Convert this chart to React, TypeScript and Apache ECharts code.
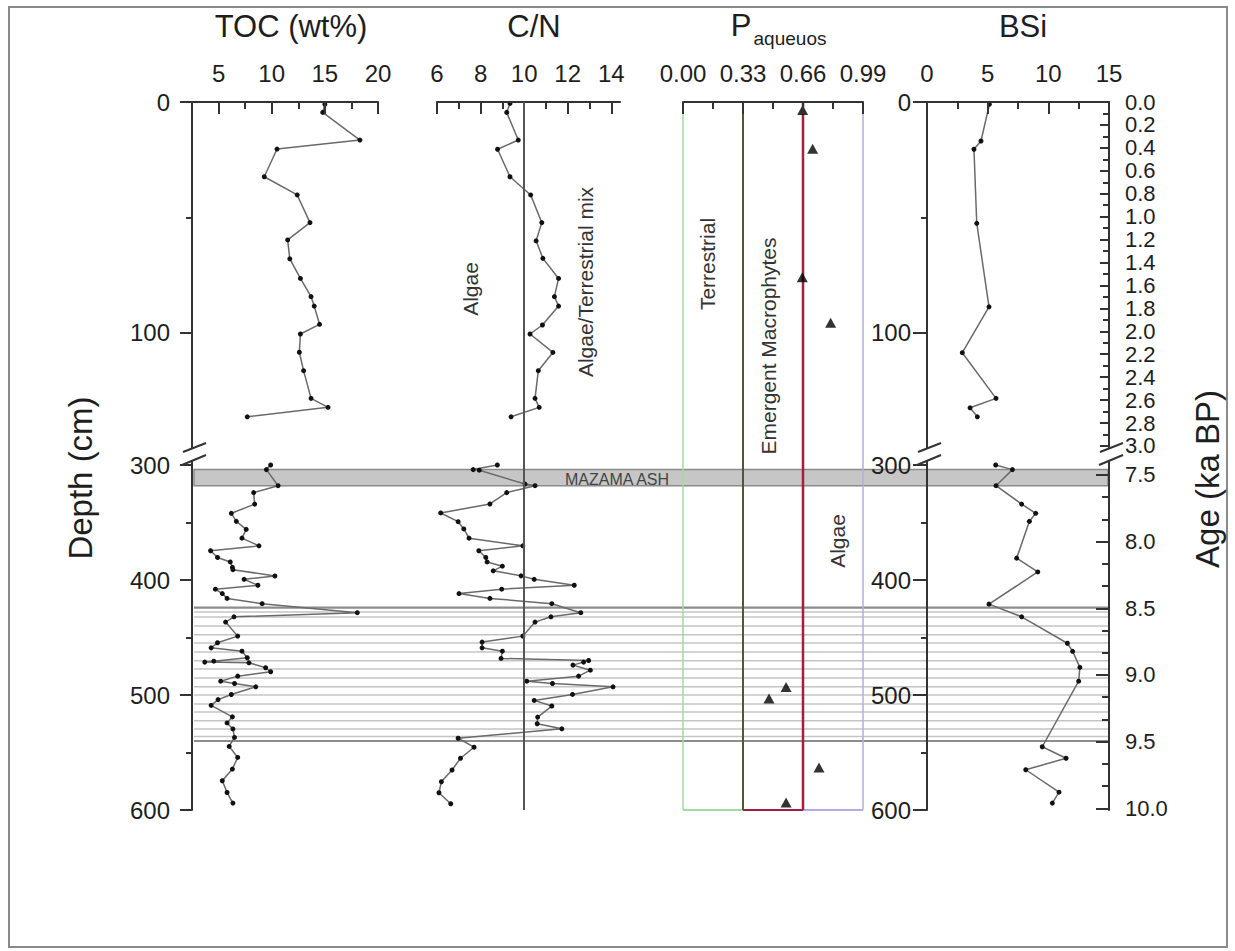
import React, { useEffect, useRef } from 'react';
import * as echarts from 'echarts';

const FONT = '"Liberation Sans", Arial, Helvetica, sans-serif';
const TEXT = '#1e1e1e';
const AXIS = '#333333';

// ---------- depth / age scales ----------
const depthRangeTop = [0, 157.4];
const depthRangeBottom = [300, 600];
const depthLabelsTop = [0, 100];
const depthMinorTop = [50];
const depthLabelsBottom = [300, 400, 500, 600];
const depthMinorBottom = [350, 450, 550];

const ageRangeTop = [0, 3.166];
const ageLabelsTop = [0, 0.2, 0.4, 0.6, 0.8, 1.0, 1.2, 1.4, 1.6, 1.8, 2.0, 2.2, 2.4, 2.6, 2.8, 3.0];
const ageMinorTop = [0.1, 0.3, 0.5, 0.7, 0.9, 1.1, 1.3, 1.5, 1.7, 1.9, 2.1, 2.3, 2.5, 2.7, 2.9];
const ageRangeBottom = [7.425, 10.013];
const ageLabelsBottom = [7.5, 8.0, 8.5, 9.0, 9.5, 10.0];
const ageMinorBottom = [7.6667, 7.8333, 8.1667, 8.3333, 8.6667, 8.8333, 9.1667, 9.3333, 9.6667, 9.8333];

// ---------- panel x scales ----------
const tocTicks = [5, 10, 15, 20];
const tocMinor = [7.5, 12.5, 17.5];
const cnTicks = [6, 8, 10, 12, 14];
const cnMinor = [7, 9, 11, 13];
const pTicks = [0, 0.33, 0.66, 0.99];
const pMinor = [0.165, 0.495, 0.825];
const bsiTicks = [0, 5, 10, 15];
const bsiMinor = [2.5, 7.5, 12.5];

// ---------- TOC (wt%) ----------
const tocDepthTop = [1, 4.5, 16.5, 20.4, 32.4, 40.3, 52.3, 59.8, 68, 76.5, 84.4, 88.5, 96.4, 100.6, 108.5, 116.5, 128.5, 132.4, 136.5];
const tocValTop = [15.0, 14.8, 18.3, 10.5, 9.3, 12.4, 13.6, 11.5, 11.7, 12.7, 13.7, 14.0, 14.5, 12.7, 12.6, 13.0, 13.7, 15.3, 7.7];
const tocDepthBottom = [300, 304, 318, 324, 334, 342, 349, 356, 363.6, 370.3, 374.6, 380.4, 384.3, 389, 391, 396.5, 399.4, 404.6, 408, 411.8, 416, 420.6, 428.4, 432, 436.6, 448.8, 454.6, 459, 461.9, 467.6, 470.6, 471.4, 472, 476.3, 479.8, 483.6, 488, 490, 492.9, 499.6, 504, 509, 519, 524.3, 529.5, 536.9, 544.7, 554.3, 564.4, 574.6, 584.8, 594];
const tocValBottom = [9.9, 9.5, 10.6, 8.3, 8.4, 6.2, 6.67, 7.6, 7.2, 8.8, 4.25, 4.9, 6.1, 6.3, 6.35, 10.3, 7.4, 8.7, 4.7, 5.35, 5.8, 9.1, 18.05, 6.45, 5.66, 6.8, 4.9, 4.3, 7.2, 7.7, 4.55, 3.7, 7.86, 9.43, 9.9, 6.8, 5.2, 6.5, 8.5, 6.2, 4.95, 4.3, 6.3, 5.8, 6.35, 6.5, 6.0, 6.8, 6.3, 5.35, 5.8, 6.35];

// ---------- C/N ----------
const cnThreshold = 10;
const cnDepthTop = [0.6, 4.5, 16.5, 20.5, 32.4, 40.3, 52.3, 60.2, 67.8, 76.5, 84.4, 88.5, 96.7, 100.6, 108.6, 116.5, 128.5, 132.4, 136.5];
const cnValTop = [9.35, 9.2, 9.73, 8.78, 9.35, 10.3, 10.81, 10.55, 10.86, 11.58, 11.39, 11.58, 10.84, 10.27, 11.32, 10.65, 10.5, 10.69, 9.4];
const cnDepthBottom = [300, 304, 304.5, 316.6, 318, 324, 333.9, 341.7, 349.3, 355.6, 363.6, 370.3, 374.6, 380.4, 384.3, 388, 392, 396.4, 399.4, 404.6, 408, 411.8, 416, 420.6, 428.4, 432, 436.6, 448.8, 454, 459, 461.9, 468.2, 470, 471.4, 474, 478.4, 483.6, 488, 490, 492.9, 499.5, 504.7, 509.6, 519.2, 525, 529.4, 537.6, 545.4, 555, 565.2, 575.4, 585, 594.6];
const cnValBottom = [8.77, 7.66, 7.94, 10.04, 10.5, 9.2, 8.43, 6.17, 6.97, 7.23, 7.47, 9.94, 7.92, 8.24, 8.3, 9.0, 8.58, 9.86, 10.46, 12.3, 8.97, 7.01, 8.43, 11.27, 12.6, 11.23, 10.5, 9.94, 8.07, 8.07, 9.0, 8.94, 12.96, 12.73, 12.24, 13.04, 12.5, 10.12, 11.3, 14.08, 12.22, 10.46, 11.27, 10.62, 10.6, 11.73, 6.97, 7.7, 7.08, 6.69, 6.2, 6.09, 6.63];

// ---------- P aqueuos ----------
const pDepthTop = [3.5, 20.3, 76, 95.7];
const pValTop = [0.658, 0.713, 0.656, 0.812];
const pDepthBottom = [493, 503, 563, 593.5];
const pValBottom = [0.567, 0.473, 0.748, 0.567];
const zoneEdges = [0, 0.33, 0.66, 0.99];
const zones = [[0, 0.33], [0.33, 0.66], [0.66, 0.99]];
const zoneEdgeColors = ['#9fdc9f', '#56562c', '#a21f3e', '#aeaee4'];
const zoneEdgeWidths = [1.5, 2, 2.5, 1.5];
const zoneColors = ['#9fdc9f', '#a21f3e', '#aeaee4'];

// ---------- BSi ----------
const bsiDepthTop = [1, 16.9, 20.5, 52.6, 88.8, 108.7, 128.5, 132.6, 136.5];
const bsiValTop = [5.14, 4.45, 3.87, 4.1, 5.11, 2.91, 5.69, 3.55, 4.15];
const bsiDepthBottom = [300, 304, 318, 334, 342, 349, 381, 393, 421, 432, 455, 462, 476, 488, 545, 555, 565, 584.5, 594];
const bsiValBottom = [5.66, 7.04, 5.69, 7.8, 8.96, 8.44, 7.39, 9.13, 5.11, 7.8, 11.57, 12.0, 12.6, 12.5, 9.5, 11.46, 8.14, 10.88, 10.33];

// ---------- stratigraphic markers ----------
const mazamaAsh = [[304, 318]];
const laminationBounds = [424, 540];
const laminationLines = [427.8, 432.2, 440, 447.6, 454.8, 462.6, 470.2, 477.4, 485.2, 492.8, 500, 507.8, 514.8, 522.3, 529.6, 536];

// ---------- layout ----------
const TOP_Y = 102;
const SPLIT_Y = 465;
const BOTTOM_Y = 810;

const panels = [
  { left: 192, width: 186, min: 2.5, max: 20, major: tocTicks, minor: tocMinor, fmt: (v: number) => String(v) },
  { left: 437, width: 183, min: 6, max: 14.4, major: cnTicks, minor: cnMinor, fmt: (v: number) => String(v) },
  { left: 683, width: 180, min: 0, max: 0.99, major: pTicks, minor: pMinor, fmt: (v: number) => v.toFixed(2) },
  { left: 927, width: 182, min: 0, max: 15, major: bsiTicks, minor: bsiMinor, fmt: (v: number) => String(v) },
];

const tick = (length: number, inside: boolean, values: number[]) => ({
  show: true, inside, length, customValues: values, lineStyle: { color: AXIS, width: 2 },
});
const labelStyle = { fontSize: 24, color: TEXT, fontFamily: FONT, showMinLabel: true, showMaxLabel: true, hideOverlap: false };

function buildOption() {
  const grid: any[] = [];
  const xAxis: any[] = [];
  const yAxis: any[] = [];
  const series: any[] = [];
  const ids: any = {};

  panels.forEach((p, i) => {
    grid.push({ left: p.left, width: p.width, top: TOP_Y, height: SPLIT_Y - TOP_Y, containLabel: false, outerBoundsMode: 'none' });
    grid.push({ left: p.left, width: p.width, top: SPLIT_Y, height: BOTTOM_Y - SPLIT_Y, containLabel: false, outerBoundsMode: 'none' });
    const gt = 2 * i, gb = 2 * i + 1;
    ids['xt' + i] = xAxis.length;
    xAxis.push({
      type: 'value', gridIndex: gt, position: 'top', min: p.min, max: p.max, z: 4,
      axisLine: { show: true, onZero: false, lineStyle: { color: AXIS, width: 2 } },
      axisTick: tick(12, true, p.major),
      axisLabel: { show: true, customValues: p.major, formatter: p.fmt, margin: 17, ...labelStyle },
      splitLine: { show: false },
    });
    xAxis.push({
      type: 'value', gridIndex: gt, position: 'top', min: p.min, max: p.max, z: 4,
      axisLine: { show: false, onZero: false }, axisTick: tick(7, true, p.minor),
      axisLabel: { show: false }, splitLine: { show: false },
    });
    ids['xb' + i] = xAxis.length;
    xAxis.push({ type: 'value', gridIndex: gb, position: 'bottom', min: p.min, max: p.max, show: false, axisLine: { onZero: false }, splitLine: { show: false } });

    const showDepth = i === 0 || i === 3;
    const margin = i === 0 ? 22 : 16;
    const tlen = i === 0 ? 12 : 14;
    [[gt, depthRangeTop, depthLabelsTop, depthMinorTop, 't'], [gb, depthRangeBottom, depthLabelsBottom, depthMinorBottom, 'b']].forEach(
      ([g, range, labels, minor, k]: any) => {
        ids['y' + k + i] = yAxis.length;
        if (showDepth) {
          yAxis.push({
            type: 'value', gridIndex: g, position: 'left', inverse: true, min: range[0], max: range[1], z: 4,
            axisLine: { show: true, onZero: false, lineStyle: { color: AXIS, width: 2 } },
            axisTick: tick(tlen, false, labels),
            axisLabel: { show: true, customValues: labels, margin, ...labelStyle },
            splitLine: { show: false },
          });
          yAxis.push({
            type: 'value', gridIndex: g, position: 'left', inverse: true, min: range[0], max: range[1], z: 4,
            axisLine: { show: false, onZero: false }, axisTick: tick(6, false, minor),
            axisLabel: { show: false }, splitLine: { show: false },
          });
        } else {
          yAxis.push({ type: 'value', gridIndex: g, inverse: true, min: range[0], max: range[1], show: false, axisLine: { onZero: false }, splitLine: { show: false } });
        }
      }
    );
  });

  // age axes on the right of BSi
  [[6, ageRangeTop, ageLabelsTop, ageMinorTop, 9, 6], [7, ageRangeBottom, ageLabelsBottom, ageMinorBottom, 13, 7]].forEach(
    ([g, range, labels, minor, majLen, minLen]: any) => {
      yAxis.push({
        type: 'value', gridIndex: g, position: 'right', inverse: true, min: range[0], max: range[1], z: 4,
        axisLine: { show: true, onZero: false, lineStyle: { color: AXIS, width: 2 } },
        axisTick: tick(majLen, true, labels),
        axisLabel: { show: true, customValues: labels, formatter: (v: number) => v.toFixed(1), margin: 16, ...labelStyle, fontSize: 22, lineHeight: 22 },
        splitLine: { show: false },
      });
      yAxis.push({
        type: 'value', gridIndex: g, position: 'right', inverse: true, min: range[0], max: range[1], z: 4,
        axisLine: { show: false, onZero: false }, axisTick: tick(minLen, true, minor),
        axisLabel: { show: false }, splitLine: { show: false },
      });
    }
  );

  // overlay grid for ash band and laminations
  grid.push({ left: 194, width: 914, top: SPLIT_Y, height: BOTTOM_Y - SPLIT_Y, containLabel: false, outerBoundsMode: 'none' });
  const bandX = xAxis.length;
  xAxis.push({ type: 'value', gridIndex: 8, min: 0, max: 1, show: false, axisLine: { onZero: false } });
  const bandY = yAxis.length;
  yAxis.push({ type: 'value', gridIndex: 8, inverse: true, min: depthRangeBottom[0], max: depthRangeBottom[1], show: false, axisLine: { onZero: false } });

  const lineSeries = (xi: number, yi: number, depths: number[], vals: number[], extra: any = {}) => ({
    type: 'line', xAxisIndex: xi, yAxisIndex: yi, silent: true, z: 3,
    data: depths.map((d, k) => [vals[k], d]),
    symbol: 'circle', symbolSize: 5, showSymbol: true,
    itemStyle: { color: '#111' }, lineStyle: { color: '#6a6a6a', width: 1.5 },
    ...extra,
  });
  const cnMark = {
    markLine: {
      silent: true, symbol: ['none', 'none'], label: { show: false },
      lineStyle: { color: '#555', width: 2, type: 'solid' },
      data: [{ xAxis: cnThreshold }],
    },
  };

  // stratigraphy
  series.push({
    type: 'custom', xAxisIndex: bandX, yAxisIndex: bandY, z: 1, silent: true, clip: false,
    data: laminationLines.map((d) => [0, d]),
    renderItem: (params: any, api: any) => {
      const cs = params.coordSys;
      const y = api.coord([0, api.value(1)])[1];
      return { type: 'line', shape: { x1: cs.x, y1: y, x2: cs.x + cs.width, y2: y }, style: { stroke: '#c4c4c4', lineWidth: 1.5 } };
    },
  });
  series.push({
    type: 'custom', xAxisIndex: bandX, yAxisIndex: bandY, z: 1, silent: true, clip: false,
    data: laminationBounds.map((d) => [0, d]),
    renderItem: (params: any, api: any) => {
      const cs = params.coordSys;
      const y = api.coord([0, api.value(1)])[1];
      return { type: 'line', shape: { x1: cs.x, y1: y, x2: cs.x + cs.width, y2: y }, style: { stroke: '#8c8c8c', lineWidth: 2.2 } };
    },
  });
  series.push({
    type: 'custom', xAxisIndex: bandX, yAxisIndex: bandY, z: 1, silent: true, clip: false,
    data: mazamaAsh,
    renderItem: (params: any, api: any) => {
      const cs = params.coordSys;
      const y0 = api.coord([0, api.value(0)])[1];
      const y1 = api.coord([0, api.value(1)])[1];
      return { type: 'rect', shape: { x: cs.x, y: y0, width: cs.width, height: y1 - y0 }, style: { fill: '#c6c6c6', stroke: '#8a8a8a', lineWidth: 1.5 } };
    },
  });

  // P zones
  const edgeSeries = (xi: number, yi: number) => ({
    type: 'custom', xAxisIndex: xi, yAxisIndex: yi, z: 2, silent: true, clip: false,
    data: zoneEdges.map((v) => [v, 0]),
    renderItem: (params: any, api: any) => {
      const cs = params.coordSys;
      const x = api.coord([api.value(0), api.value(1)])[0];
      return {
        type: 'line', shape: { x1: x, y1: cs.y, x2: x, y2: cs.y + cs.height },
        style: { stroke: zoneEdgeColors[params.dataIndex], lineWidth: zoneEdgeWidths[params.dataIndex] },
      };
    },
  });
  series.push(edgeSeries(ids.xt2, ids.yt2));
  series.push({
    type: 'custom', xAxisIndex: ids.xb2, yAxisIndex: ids.yb2, z: 2, silent: true, clip: false,
    data: zones,
    renderItem: (params: any, api: any) => {
      const p0 = api.coord([api.value(0), depthRangeBottom[1]]);
      const p1 = api.coord([api.value(1), depthRangeBottom[1]]);
      return { type: 'line', shape: { x1: p0[0], y1: p0[1], x2: p1[0], y2: p1[1] }, style: { stroke: zoneColors[params.dataIndex], lineWidth: 2 } };
    },
  });
  series.push(edgeSeries(ids.xb2, ids.yb2));

  // data series
  series.push(lineSeries(ids.xt0, ids.yt0, tocDepthTop, tocValTop));
  series.push(lineSeries(ids.xb0, ids.yb0, tocDepthBottom, tocValBottom));
  series.push(lineSeries(ids.xt1, ids.yt1, cnDepthTop, cnValTop, cnMark));
  series.push(lineSeries(ids.xb1, ids.yb1, cnDepthBottom, cnValBottom, cnMark));
  series.push(lineSeries(ids.xt3, ids.yt3, bsiDepthTop, bsiValTop));
  series.push(lineSeries(ids.xb3, ids.yb3, bsiDepthBottom, bsiValBottom));
  const tri = (xi: number, yi: number, depths: number[], vals: number[]) => ({
    type: 'scatter', xAxisIndex: xi, yAxisIndex: yi, z: 3, silent: true,
    symbol: 'triangle', symbolSize: [11, 10], itemStyle: { color: '#000' },
    data: depths.map((d, k) => [vals[k], d]),
  });
  series.push(tri(ids.xt2, ids.yt2, pDepthTop, pValTop));
  series.push(tri(ids.xb2, ids.yb2, pDepthBottom, pValBottom));

  // graphics: titles, annotations, axis breaks, frame
  const txt = (text: string, x: number, y: number, size: number, rot = 0, color = TEXT, align = 'center') => ({
    type: 'text', x, y, z: 100, rotation: rot, silent: true,
    style: {
      text, fontSize: size, fontFamily: FONT, fill: color,
      align, verticalAlign: 'middle', textAlign: align, textVerticalAlign: 'middle',
    },
  });
  const R = Math.PI / 2;
  const elements: any[] = [
    { type: 'rect', z: 0, silent: true, shape: { x: 9, y: 7, width: 1218, height: 940 }, style: { fill: 'none', stroke: '#8a8a8a', lineWidth: 2 } },
    txt('TOC (wt%)', 291, 26, 31),
    txt('C/N', 534, 26, 31),
    txt('P', 741, 25, 31),
    txt('aqueuos', 790, 38, 19),
    txt('BSi', 1023, 26, 31),
    txt('Depth (cm)', 80, 478, 33, R),
    txt('Age (ka BP)', 1207, 479, 33, R),
    txt('Algae', 470, 289, 21, R, '#333'),
    txt('Algae/Terrestrial mix', 585, 282, 21, R, '#333'),
    txt('Terrestrial', 707, 264, 21, R, '#333'),
    txt('Emergent Macrophytes', 768, 346, 21, R, '#333'),
    txt('Algae', 837, 541, 21, R, '#333'),
    txt('MAZAMA ASH', 565, 479, 16, 0, '#444', 'left'),
  ];
  [192, 927, 1109].forEach((ax) => {
    elements.push({ type: 'rect', z: 99, silent: true, shape: { x: ax - 4, y: 449, width: 8, height: 12 }, style: { fill: '#fff' } });
    elements.push({ type: 'line', z: 100, silent: true, shape: { x1: ax - 9, y1: 452, x2: ax + 14, y2: 443 }, style: { stroke: AXIS, lineWidth: 2 } });
    elements.push({ type: 'line', z: 100, silent: true, shape: { x1: ax - 10, y1: 465, x2: ax + 14, y2: 455 }, style: { stroke: AXIS, lineWidth: 2 } });
  });

  return {
    animation: false,
    backgroundColor: '#ffffff',
    textStyle: { fontFamily: FONT },
    grid, xAxis, yAxis, series,
    graphic: { elements },
  };
}

export default function App() {
  const ref = useRef<HTMLDivElement>(null);
  useEffect(() => {
    if (!ref.current) return;
    const chart = echarts.init(ref.current, undefined, { renderer: 'svg' });
    chart.setOption(buildOption() as any);
    return () => chart.dispose();
  }, []);
  return <div ref={ref} style={{ position: 'absolute', left: 0, top: 0, width: 1235, height: 951 }} />;
}
